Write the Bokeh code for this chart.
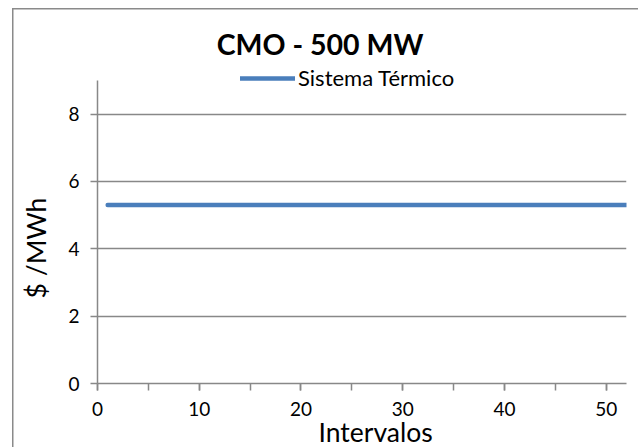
from bokeh.plotting import figure
from bokeh.models import Range1d, FixedTicker, SingleIntervalTicker, Label, Legend, LegendItem, Title
from bokeh.embed import file_html
from bokeh.resources import INLINE

# ---- data ----
intervalos = [1, 2, 3, 4, 5, 6, 7, 8, 9, 10, 11, 12, 13, 14, 15, 16, 17, 18, 19, 20,
              21, 22, 23, 24, 25, 26, 27, 28, 29, 30, 31, 32, 33, 34, 35, 36, 37, 38, 39, 40,
              41, 42, 43, 44, 45, 46, 47, 48, 49, 50, 51, 52]
cmo_termico = [5.3, 5.3, 5.3, 5.3, 5.3, 5.3, 5.3, 5.3, 5.3, 5.3, 5.3, 5.3, 5.3, 5.3, 5.3, 5.3,
               5.3, 5.3, 5.3, 5.3, 5.3, 5.3, 5.3, 5.3, 5.3, 5.3, 5.3, 5.3, 5.3, 5.3, 5.3, 5.3,
               5.3, 5.3, 5.3, 5.3, 5.3, 5.3, 5.3, 5.3, 5.3, 5.3, 5.3, 5.3, 5.3, 5.3, 5.3, 5.3,
               5.3, 5.3, 5.3, 5.3]
y_ticks = [0, 2, 4, 6, 8]
y_grid = [2, 4, 6, 8]
y_axis_max = 9
x_axis_max = 52
serie_nombre = "Sistema Térmico"
titulo = "CMO  - 500 MW"
x_label = "Intervalos"
y_label = "$ /MWh"

FONT = "Lato"
GRAY = "#888888"

p = figure(width=638, height=447, output_backend="svg", toolbar_location=None,
           x_range=Range1d(0, x_axis_max), y_range=Range1d(0, 10.78),
           min_border_left=97, min_border_right=12, min_border_top=20, min_border_bottom=64,
           background_fill_color="white", border_fill_alpha=0)
# outer chart-area border (left and top edges visible inside the window)
p.styles = {"background": "linear-gradient(#8a8a8a, #8a8a8a) 12px 8px / 1.5px 100% no-repeat, "
                          "linear-gradient(#8a8a8a, #8a8a8a) 12px 8px / 100% 1.5px no-repeat, white"}
p.outline_line_color = None

r = p.line(intervalos, cmo_termico, line_color="#4a7ebb", line_width=4.5, line_cap="round")

# axes
p.xaxis.ticker = SingleIntervalTicker(interval=10, num_minor_ticks=2)
p.yaxis.ticker = FixedTicker(ticks=y_ticks)
p.yaxis.bounds = (0, y_axis_max)
p.xaxis.bounds = (0, x_axis_max)
for ax in (p.xaxis, p.yaxis):
    ax.axis_line_color = GRAY
    ax.axis_line_width = 1.5
    ax.major_tick_line_color = GRAY
    ax.minor_tick_line_color = GRAY
    ax.major_tick_line_width = 1.5
    ax.minor_tick_line_width = 1.5
    ax.major_tick_in = 0
    ax.minor_tick_in = 0
    ax.major_label_text_font = FONT
    ax.major_label_text_font_size = "19px"
    ax.major_label_text_color = "black"
p.xaxis.major_tick_out = 7
p.xaxis.minor_tick_out = 7
p.xaxis.major_label_standoff = 11
p.yaxis.major_tick_out = 7
p.yaxis.minor_tick_out = 0
p.yaxis.major_label_standoff = 11

p.xgrid.grid_line_color = None
p.ygrid.ticker = FixedTicker(ticks=y_grid)
p.ygrid.grid_line_color = GRAY
p.ygrid.grid_line_width = 1.5

# chart title
p.add_layout(Label(x=226, y=340, x_units="screen", y_units="screen", text=titulo,
                   text_font=FONT, text_font_size="28.5px", text_font_style="bold",
                   text_align="center", text_baseline="alphabetic", text_color="black"))

# axis titles
p.add_layout(Title(text=x_label, align="left", offset=221, standoff=-10,
                   text_font=FONT, text_font_size="26.5px", text_font_style="normal",
                   text_color="black"), "below")
p.add_layout(Title(text=y_label, align="left", offset=85, standoff=27,
                   text_font=FONT, text_font_size="26.5px", text_font_style="normal",
                   text_color="black"), "left")

# legend
legend = Legend(items=[LegendItem(label=serie_nombre, renderers=[r])],
                location=(143, 292), orientation="horizontal",
                padding=0, margin=0, spacing=0,
                glyph_width=55, glyph_height=20, label_height=20, label_standoff=3,
                label_text_font=FONT, label_text_font_size="22px", label_text_color="black",
                border_line_color=None, background_fill_alpha=0)
p.add_layout(legend, "center")

open("out.html", "w").write(file_html(p, INLINE))
